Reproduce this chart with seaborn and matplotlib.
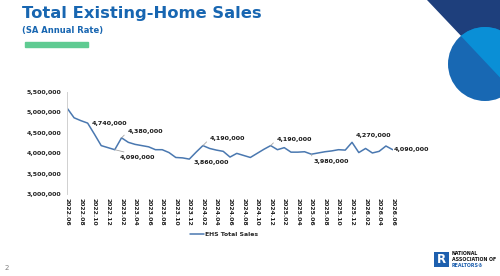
import matplotlib
matplotlib.use("Agg")
import matplotlib.pyplot as plt
import matplotlib.patches as mpatches
import seaborn as sns
import pandas as pd
import numpy as np

# ---------------- data ----------------
months = [
    "2022.06", "2022.07", "2022.08", "2022.09", "2022.10", "2022.11", "2022.12",
    "2023.01", "2023.02", "2023.03", "2023.04", "2023.05", "2023.06", "2023.07",
    "2023.08", "2023.09", "2023.10", "2023.11", "2023.12", "2024.01", "2024.02",
    "2024.03", "2024.04", "2024.05", "2024.06", "2024.07", "2024.08", "2024.09",
    "2024.10", "2024.11", "2024.12", "2025.01", "2025.02", "2025.03", "2025.04",
    "2025.05", "2025.06", "2025.07", "2025.08", "2025.09", "2025.10", "2025.11",
    "2025.12", "2026.01", "2026.02", "2026.03", "2026.04", "2026.05", "2026.06",
]
sales = [
    5100000, 4870000, 4800000, 4740000, 4470000, 4190000, 4140000,
    4090000, 4380000, 4270000, 4220000, 4190000, 4160000, 4090000,
    4090000, 4020000, 3900000, 3890000, 3860000, 4030000, 4190000,
    4120000, 4080000, 4050000, 3910000, 4000000, 3950000, 3900000,
    4000000, 4100000, 4190000, 4090000, 4140000, 4030000, 4030000,
    4040000, 3980000, 4010000, 4040000, 4060000, 4090000, 4080000,
    4270000, 4020000, 4120000, 4010000, 4050000, 4180000, 4090000,
]
tick_labels = months[::2]
series_name = "EHS Total Sales"
# labelled points: (month, value)
labelled = [
    ("2022.09", 4740000), ("2023.02", 4380000), ("2023.01", 4090000),
    ("2023.12", 3860000), ("2024.02", 4190000), ("2024.12", 4190000),
    ("2025.06", 3980000), ("2025.12", 4270000), ("2026.06", 4090000),
]
y_ticks = [3000000, 3500000, 4000000, 4500000, 5000000, 5500000]

# ---------------- style ----------------
sns.set_style("white")
plt.rcParams["font.family"] = ["DejaVu Sans"]

W, H = 500, 276
fig = plt.figure(figsize=(W / 100, H / 100), dpi=100)
fig.patch.set_facecolor("white")

def fx(x):
    return x / W

def fy(y):
    return 1 - y / H

ax_l, ax_r, ax_t, ax_b = 67.3, 392.7, 92.0, 194.3
ax = fig.add_axes([fx(ax_l), fy(ax_b), fx(ax_r) - fx(ax_l), fy(ax_t) - fy(ax_b)])
ax.set_facecolor("none")

df = pd.DataFrame({"idx": np.arange(len(months)), "month": months, "sales": sales})
LINE = "#4a78b0"
sns.lineplot(data=df, x="idx", y="sales", ax=ax, color=LINE, linewidth=1.1,
             label=series_name, legend=False)

ax.set_xlim(0, len(months) - 1)
ax.set_ylim(3000000, 5500000)
ax.set_yticks(y_ticks)
ax.set_yticklabels([f"{v:,.0f}" for v in y_ticks], fontsize=4.5, fontweight="bold",
                   color="#222222")
tick_pos = [months.index(m) for m in tick_labels]
ax.set_xticks(tick_pos)
ax.set_xticklabels(tick_labels, rotation=270, fontsize=4.4, fontweight="bold",
                   color="#222222", ha="center", va="top")
ax.tick_params(axis="y", length=2.5, width=0.6, color="#cfcfcf", pad=2)
ax.tick_params(axis="x", length=0, pad=3)
ax.set_xlabel("")
ax.set_ylabel("")
for s in ["top", "right", "bottom"]:
    ax.spines[s].set_visible(False)
ax.spines["left"].set_color("#d0d0d0")
ax.spines["left"].set_linewidth(0.7)
ax.grid(False)

# ---------------- data labels ----------------
offsets = {
    "2022.09": ((4, 0), "left", "center", None),
    "2023.02": ((6, 6), "left", "center", (0, 0.5)),
    "2023.01": ((5, -8), "left", "center", (0.5, 1.0)),
    "2023.12": ((4, -3), "left", "center", None),
    "2024.02": ((7, 7), "left", "center", (0, 0.5)),
    "2024.12": ((6, 6), "left", "center", (0, 0.5)),
    "2025.06": ((2, -7.5), "left", "center", (0, 0.6)),
    "2025.12": ((4, 7), "left", "center", None),
    "2026.06": ((1, 0), "left", "center", None),
}
for m, v in labelled:
    (dx, dy), ha, va, rel = offsets[m]
    kw = {}
    if rel is not None:
        kw["arrowprops"] = dict(arrowstyle="-", color="#a6a6a6", lw=0.6,
                                shrinkA=0, shrinkB=0, relpos=rel)
    ax.annotate(f"{v:,.0f}", xy=(months.index(m), v), xytext=(dx, dy),
                textcoords="offset pixels", ha=ha, va=va, fontsize=4.6,
                fontweight="bold", color="#1a1a1a", annotation_clip=False, **kw)

# ---------------- legend ----------------
leg = ax.legend(handles=[plt.Line2D([0], [0], color=LINE, lw=1.1)], labels=[series_name],
                loc="center", bbox_to_anchor=(fx(224), fy(234.5)),
                bbox_transform=fig.transFigure, frameon=False,
                prop={"size": 4.4, "weight": "bold"}, handlelength=2.2,
                handletextpad=0.2, borderpad=0)

# ---------------- title block ----------------
fig.text(fx(22), fy(13.5), "Total Existing-Home Sales", fontsize=11.8,
         fontweight="bold", color="#1866b1", ha="left", va="center")
fig.text(fx(22), fy(30.5), "(SA Annual Rate)", fontsize=6.0, fontweight="bold",
         color="#1866b1", ha="left", va="center")
fig.patches.append(mpatches.Rectangle((fx(25), fy(47.3)), fx(63), 5 / H,
                                      transform=fig.transFigure, color="#5fcb92",
                                      zorder=1))

# ---------------- decoration (top right) ----------------
T = fig.dpi_scale_trans
def p(x, y):
    return (x / 100, (H - y) / 100)

tri_pts = [p(427, 0), p(500, 0), p(500, 77)]
tri = mpatches.Polygon(tri_pts, closed=True, transform=T, facecolor="#1e3f7c",
                       edgecolor="none", zorder=2)
fig.patches.append(tri)
circ = mpatches.Circle(p(485, 64), 0.37, transform=T, facecolor="#1868b3",
                       edgecolor="none", zorder=3)
fig.patches.append(circ)
light_region = mpatches.Polygon([p(427, 0), p(540, 0), p(540, 120)], closed=True,
                                transform=T, facecolor="#0a8fd6", edgecolor="none",
                                zorder=4)
fig.patches.append(light_region)
light_region.set_clip_path(circ)

# ---------------- NAR logo ----------------
fig.patches.append(mpatches.Rectangle(p(434, 267), 0.15, 0.15, transform=T,
                                      facecolor="#1d5fae", edgecolor="none", zorder=2))
fig.text(fx(441.5), fy(259.5), "R", fontsize=8.5, fontweight="bold", color="white",
         ha="center", va="center")
fig.text(fx(452), fy(253.8), "NATIONAL", fontsize=3.4, fontweight="bold",
         color="#111111", ha="left", va="center")
fig.text(fx(452), fy(259.5), "ASSOCIATION OF", fontsize=3.4, fontweight="bold",
         color="#111111", ha="left", va="center")
fig.text(fx(452), fy(265.2), "REALTORS®", fontsize=3.4, fontweight="bold",
         color="#1d5fae", ha="left", va="center")

# page number
fig.text(fx(7), fy(268), "2", fontsize=5, color="#7f7f7f", ha="center", va="center")

fig.savefig("out.png", dpi=100, facecolor="white")
